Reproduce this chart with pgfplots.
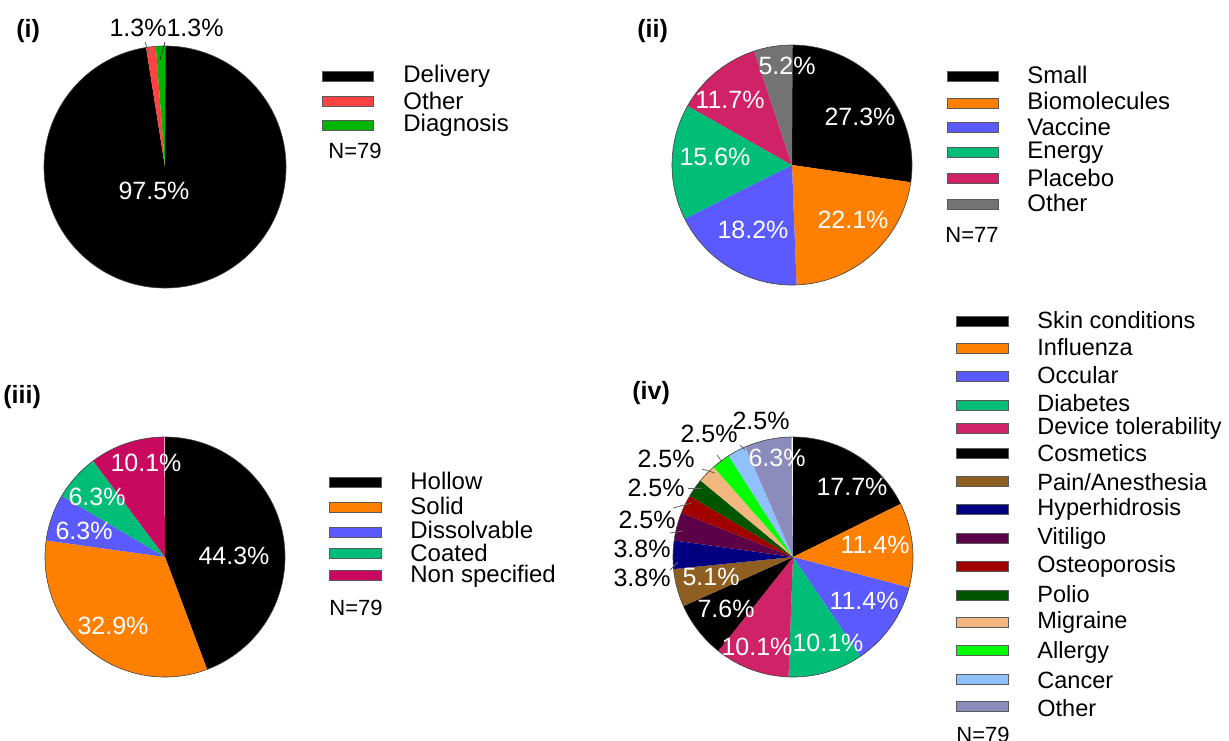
\documentclass[border=0pt]{standalone}
\usepackage{fontspec}
\setmainfont{Liberation Sans}
\usepackage{pgfplots}
\pgfplotsset{compat=1.18}
\definecolor{cRed}{RGB}{255,66,66}
\definecolor{cGrn}{RGB}{0,180,0}
\definecolor{cOrange}{RGB}{255,128,0}
\definecolor{cBlue}{RGB}{90,90,255}
\definecolor{cGreen}{RGB}{0,190,120}
\definecolor{cMag}{RGB}{208,34,102}
\definecolor{cMagB}{RGB}{200,9,95}
\definecolor{cGray}{RGB}{115,115,115}
\definecolor{cBrown}{RGB}{143,95,33}
\definecolor{cNavy}{RGB}{0,0,128}
\definecolor{cPurple}{RGB}{92,0,72}
\definecolor{cDRed}{RGB}{160,0,0}
\definecolor{cDGreen}{RGB}{0,85,0}
\definecolor{cPeach}{RGB}{242,183,127}
\definecolor{cLime}{RGB}{0,255,0}
\definecolor{cLBlue}{RGB}{144,192,255}
\definecolor{cLav}{RGB}{140,140,188}
% #1,#2 centre in px, #3 radius in px, #4 value/colour list
\newcommand{\piechart}[4]{%
  \begin{axis}[at={({#1*0.5pt},{-#2*0.5pt})}, anchor=center,
    width=#3pt, height=#3pt, scale only axis,
    xmin=-1, xmax=1, ymin=-1, ymax=1, hide axis, clip=false]
  \pgfplotsextra{%
    \gdef\cum{90}%
    \foreach \v/\c in {#4} {%
      \pgfmathsetmacro\e{\cum-3.6*\v}%
      \fill[\c] (axis cs:0,0) -- ++(\cum:{#3*0.5pt})
        arc[start angle=\cum, end angle=\e, radius={#3*0.5pt}] -- cycle;
      \global\let\cum\e
    }%
    \draw[line width=0.3pt, black!75] (axis cs:0,0) circle[radius={#3*0.5pt}];
  }
  \end{axis}}
\newcommand{\sw}[4]{% x1 x2 y colour
  \filldraw[fill=#4, draw=black!65, line width=0.4pt] (#1,#3-5) rectangle (#2,#3+5);}
\begin{document}
\begin{tikzpicture}
\piechart{165}{167}{121}{97.5/black, 1.3/cRed, 1.3/cGrn}
\piechart{792}{165}{120}{27.3/black, 22.1/cOrange, 18.2/cBlue, 15.6/cGreen, 11.7/cMag, 5.2/cGray}
\piechart{165}{557}{120}{44.3/black, 32.9/cOrange, 6.3/cBlue, 6.3/cGreen, 10.1/cMagB}
\piechart{793}{557}{120}{17.7/black, 11.4/cOrange, 11.4/cBlue, 10.1/cGreen, 10.1/cMag, 7.6/black, 5.1/cBrown, 3.8/cNavy, 3.8/cPurple, 2.5/cDRed, 2.5/cDGreen, 2.5/cPeach, 2.5/cLime, 2.5/cLBlue, 6.3/cLav}
\begin{scope}[x=0.5pt, y=-0.5pt]
% panel labels
\begin{scope}[font=\fontsize{12.5}{14}\selectfont\bfseries]
\node[anchor=west, inner sep=0] at (16,31) {(i)};
\node[anchor=west, inner sep=0] at (637,31) {(ii)};
\node[anchor=west, inner sep=0] at (3,397) {(iii)};
\node[anchor=west, inner sep=0] at (632,393) {(iv)};
\end{scope}
% pie labels
\begin{scope}[font=\fontsize{12.5}{14}\selectfont, inner sep=0]
\node[white] at (154,191) {97.5\%};
\node at (138,28) {1.3\%};
\node at (195,28) {1.3\%};
\draw[black!60, line width=0.4pt] (145,42) -- (149,53);
\draw[black!80, line width=0.4pt] (165,42) -- (160,60);
\node[white] at (860,117) {27.3\%};
\node[white] at (853,220) {22.1\%};
\node[white] at (753,230) {18.2\%};
\node[white] at (715,157) {15.6\%};
\node[white] at (730,100) {11.7\%};
\node[white] at (787,66) {5.2\%};
\node[white] at (234,556) {44.3\%};
\node[white] at (113,626) {32.9\%};
\node[white] at (84,531) {6.3\%};
\node[white] at (97,497) {6.3\%};
\node[white] at (146,463) {10.1\%};
\node[white] at (852,487) {17.7\%};
\node[white] at (875,545) {11.4\%};
\node[white] at (864,601) {11.4\%};
\node[white] at (828,643) {10.1\%};
\node[white] at (757,647) {10.1\%};
\node[white] at (726,609) {7.6\%};
\node[white] at (711,577) {5.1\%};
\node[white] at (777,458) {6.3\%};
\node at (642,578) {3.8\%};
\node at (642,549) {3.8\%};
\node at (647,520) {2.5\%};
\node at (656,488) {2.5\%};
\node at (666,459) {2.5\%};
\node at (709,434) {2.5\%};
\node at (761,421) {2.5\%};
\draw[black!60, line width=0.4pt] (670,570) -- (678,562);
\draw[black!60, line width=0.4pt] (670,533) -- (683,531);
\draw[black!60, line width=0.4pt] (673,508) -- (692,503);
\draw[black!60, line width=0.4pt] (688,488) -- (702,488);
\draw[black!60, line width=0.4pt] (702,469) -- (715,473);
\draw[black!60, line width=0.4pt] (717,455) -- (722,462);
\draw[black!60, line width=0.4pt] (740,445) -- (745,450);
\end{scope}
% legends
\begin{scope}[font=\fontsize{12}{13}\selectfont, inner sep=0]
\sw{322}{373}{76}{black}\node[anchor=west] at (403,76) {Delivery};
\sw{322}{373}{101}{cRed}\node[anchor=west] at (403,101) {Other};
\sw{322}{373}{125}{cGrn}\node[anchor=west] at (403,125) {Diagnosis};
\node[anchor=west, font=\fontsize{11}{12}\selectfont] at (328,151) {N=79};
\sw{947}{998}{76}{black}\node[anchor=west] at (1027,75) {Small};
\sw{947}{998}{103}{cOrange}\node[anchor=west] at (1027,101) {Biomolecules};
\sw{947}{998}{127.5}{cBlue}\node[anchor=west] at (1027,127) {Vaccine};
\sw{947}{998}{152}{cGreen}\node[anchor=west] at (1027,153) {Energy};
\sw{947}{998}{178.5}{cMag}\node[anchor=west] at (1027,178) {Placebo};
\sw{947}{998}{204}{cGray}\node[anchor=west] at (1027,203) {Other};
\node[anchor=west, font=\fontsize{11}{12}\selectfont] at (945,235) {N=77};
\sw{329}{381}{482}{black}\node[anchor=west] at (410,481) {Hollow};
\sw{329}{381}{507}{cOrange}\node[anchor=west] at (410,506) {Solid};
\sw{329}{381}{532}{cBlue}\node[anchor=west] at (410,530) {Dissolvable};
\sw{329}{381}{553}{cGreen}\node[anchor=west] at (410,553) {Coated};
\sw{329}{381}{575.5}{cMagB}\node[anchor=west] at (410,576) {Non specified};
\node[anchor=west, font=\fontsize{11}{12}\selectfont] at (329,608) {N=79};
\end{scope}
\begin{scope}[font=\fontsize{11.75}{13}\selectfont, inner sep=0]
\sw{956}{1008}{321}{black}\node[anchor=west] at (1037,320) {Skin conditions};
\sw{956}{1008}{348}{cOrange}\node[anchor=west] at (1037,347) {Influenza};
\sw{956}{1008}{376.5}{cBlue}\node[anchor=west] at (1037,375) {Occular};
\sw{956}{1008}{405}{cGreen}\node[anchor=west] at (1037,403) {Diabetes};
\sw{956}{1008}{428}{cMag}\node[anchor=west] at (1037,428) {Device tolerability};
\sw{956}{1008}{453}{black}\node[anchor=west] at (1037,453) {Cosmetics};
\sw{956}{1008}{481.5}{cBrown}\node[anchor=west] at (1037,482) {Pain/Anesthesia};
\sw{956}{1008}{509}{cNavy}\node[anchor=west] at (1037,509) {Hyperhidrosis};
\sw{956}{1008}{538}{cPurple}\node[anchor=west] at (1037,538) {Vitiligo};
\sw{956}{1008}{566.5}{cDRed}\node[anchor=west] at (1037,566) {Osteoporosis};
\sw{956}{1008}{595}{cDGreen}\node[anchor=west] at (1037,594) {Polio};
\sw{956}{1008}{622.5}{cPeach}\node[anchor=west] at (1037,622) {Migraine};
\sw{956}{1008}{650.5}{cLime}\node[anchor=west] at (1037,652) {Allergy};
\sw{956}{1008}{679}{cLBlue}\node[anchor=west] at (1037,680) {Cancer};
\sw{956}{1008}{706.5}{cLav}\node[anchor=west] at (1037,708) {Other};
\node[anchor=west, font=\fontsize{11}{12}\selectfont] at (956,735) {N=79};
\end{scope}
\end{scope}
\pgfresetboundingbox
\path[use as bounding box] (0,0) rectangle (614.5pt,-370pt);
\end{tikzpicture}
\end{document}
